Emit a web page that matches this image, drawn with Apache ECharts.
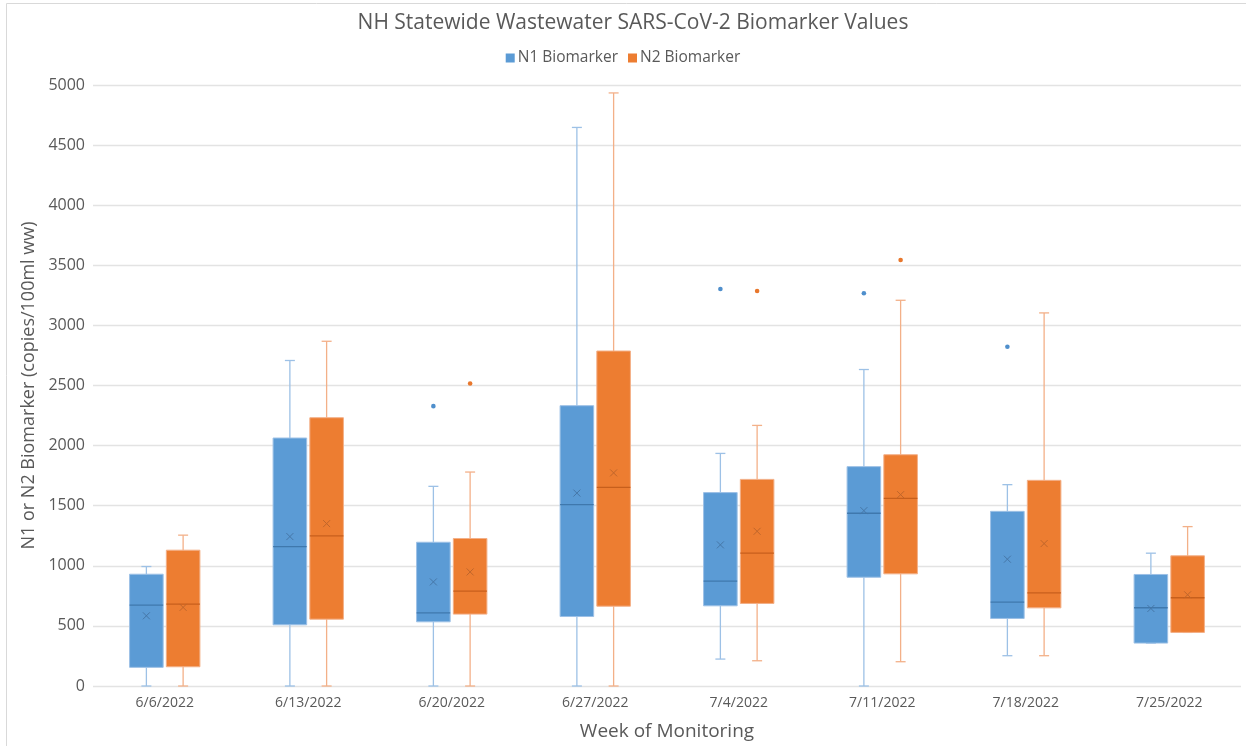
<!DOCTYPE html>
<html>
<head>
<meta charset="utf-8">
<script src="https://cdn.jsdelivr.net/npm/echarts@6/dist/echarts.min.js"></script>
<style>
  html, body { margin: 0; padding: 0; background: #fff; }
  #chart { width: 1246px; height: 746px; }
</style>
</head>
<body>
<div id="chart"></div>
<script>
// weeks
const categories = ['6/6/2022', '6/13/2022', '6/20/2022', '6/27/2022', '7/4/2022', '7/11/2022', '7/18/2022', '7/25/2022']
const yTicks = [0, 500, 1000, 1500, 2000, 2500, 3000, 3500, 4000, 4500, 5000]

// N1 biomarker box stats
const n1Min = [0, 0, 0, 0, 224, 0, 252, 357]
const n1Q1 = [155, 509, 534, 578, 667, 905, 562, 357]
const n1Median = [673, 1160, 609, 1509, 872, 1437, 698, 651]
const n1Q3 = [930, 2063, 1196, 2332, 1609, 1825, 1453, 928]
const n1Max = [994, 2708, 1661, 4647, 1935, 2633, 1675, 1105]
const n1Mean = [584, 1243, 866, 1605, 1174, 1459, 1055, 645]
const n1Outliers = [[2, 2328], [4, 3303], [5, 3267], [6, 2822]]

// N2 biomarker box stats
const n2Min = [0, 0, 0, 0, 210, 202, 252, 446]
const n2Q1 = [160, 556, 598, 664, 687, 933, 650, 446]
const n2Median = [681, 1249, 789, 1653, 1105, 1561, 775, 734]
const n2Q3 = [1130, 2232, 1227, 2787, 1719, 1924, 1711, 1083]
const n2Max = [1255, 2868, 1780, 4934, 2168, 3209, 3104, 1326]
const n2Mean = [654, 1351, 949, 1773, 1287, 1592, 1185, 759]
const n2Outliers = [[2, 2517], [4, 3286], [5, 3544]]

const textColor = '#595959'
const fontFamily = 'Open Sans'

const toRows = (mins, q1s, meds, q3s, maxs, means) =>
    categories.map((c, i) => [i, mins[i], q1s[i], meds[i], q3s[i], maxs[i], means[i]])

// draws one box (side -1 = left, 1 = right of the category centre)
const boxRenderer = (side, fill, whisker, median, meanColor) => (params, api) => {
    const idx = api.value(0)
    const band = api.size([1, 0])[0]
    const cx = api.coord([idx, 0])[0] + side * band * 0.128
    const w = band * 0.234
    const y = v => api.coord([idx, v])[1]
    const yMin = y(api.value(1)), yQ1 = y(api.value(2)), yMed = y(api.value(3))
    const yQ3 = y(api.value(4)), yMax = y(api.value(5)), yMean = y(api.value(6))
    const cap = 5
    const m = 3.5
    const lineStyle = { stroke: whisker, lineWidth: 1.3 }
    return {
        type: 'group',
        children: [
            { type: 'line', shape: { x1: cx, y1: yQ1, x2: cx, y2: yMin }, style: lineStyle },
            { type: 'line', shape: { x1: cx, y1: yQ3, x2: cx, y2: yMax }, style: lineStyle },
            { type: 'line', shape: { x1: cx - cap, y1: yMin, x2: cx + cap, y2: yMin }, style: lineStyle },
            { type: 'line', shape: { x1: cx - cap, y1: yMax, x2: cx + cap, y2: yMax }, style: lineStyle },
            {
                type: 'rect',
                shape: { x: cx - w / 2, y: yQ3, width: w, height: yQ1 - yQ3 },
                style: { fill: fill, stroke: whisker, lineWidth: 1 }
            },
            { type: 'line', shape: { x1: cx - w / 2, y1: yMed, x2: cx + w / 2, y2: yMed }, style: { stroke: median, lineWidth: 1.3 } },
            { type: 'line', shape: { x1: cx - m, y1: yMean - m, x2: cx + m, y2: yMean + m }, style: { stroke: meanColor, lineWidth: 1 } },
            { type: 'line', shape: { x1: cx - m, y1: yMean + m, x2: cx + m, y2: yMean - m }, style: { stroke: meanColor, lineWidth: 1 } }
        ]
    }
}

const dotRenderer = (side, fill) => (params, api) => {
    const idx = api.value(0)
    const band = api.size([1, 0])[0]
    const p = api.coord([idx, api.value(1)])
    return {
        type: 'circle',
        shape: { cx: p[0] + side * band * 0.128, cy: p[1], r: 2.3 },
        style: { fill: fill }
    }
}

const myChart = echarts.init(document.getElementById('chart'))
const option = {
    animation: false,
    title: {
        text: 'NH Statewide Wastewater SARS-CoV-2 Biomarker Values',
        left: 628,
        textAlign: 'center',
        top: 8,
        textStyle: { color: textColor, fontSize: 21, fontWeight: 'normal', fontFamily: fontFamily }
    },
    legend: {
        top: 45,
        left: 'center',
        itemWidth: 9,
        itemHeight: 9,
        itemGap: 10,
        icon: 'rect',
        data: ['N1 Biomarker', 'N2 Biomarker'],
        textStyle: { color: textColor, fontSize: 15.5, fontFamily: fontFamily, padding: [0, 0, 0, -2] }
    },
    graphic: [{
        type: 'rect',
        shape: { x: 6.5, y: 3.5, width: 1300, height: 800 },
        style: { fill: 'none', stroke: '#d9d9d9', lineWidth: 1 },
        silent: true
    }],
    grid: { left: 93, top: 85, width: 1148, height: 602 },
    xAxis: {
        type: 'category',
        data: categories,
        name: 'Week of Monitoring',
        nameLocation: 'middle',
        nameGap: 36,
        nameTextStyle: { color: textColor, fontSize: 19, fontFamily: fontFamily },
        axisLine: { show: false },
        axisTick: { show: false },
        axisLabel: { color: textColor, fontSize: 14, fontFamily: fontFamily, margin: 10 }
    },
    yAxis: {
        type: 'value',
        min: yTicks[0],
        max: yTicks[yTicks.length - 1],
        interval: 500,
        name: 'N1 or N2 Biomarker (copies/100ml ww)',
        nameLocation: 'middle',
        nameRotate: 90,
        nameGap: 54,
        nameTextStyle: { color: textColor, fontSize: 18, fontFamily: fontFamily },
        axisLine: { show: false },
        axisTick: { show: false },
        axisLabel: { color: textColor, fontSize: 16, fontFamily: fontFamily, margin: 8, formatter: v => String(v) },
        splitLine: { lineStyle: { color: '#e3e3e3', width: 1.3 } }
    },
    series: [
        {
            name: 'N1 Biomarker',
            type: 'custom',
            itemStyle: { color: '#5B9BD5' },
            encode: { x: 0, y: [1, 2, 3, 4, 5, 6] },
            data: toRows(n1Min, n1Q1, n1Median, n1Q3, n1Max, n1Mean),
            renderItem: boxRenderer(-1, '#5B9BD5', '#9dc1e6', '#3f78ad', '#4677a8')
        },
        {
            name: 'N2 Biomarker',
            type: 'custom',
            itemStyle: { color: '#ED7D31' },
            encode: { x: 0, y: [1, 2, 3, 4, 5, 6] },
            data: toRows(n2Min, n2Q1, n2Median, n2Q3, n2Max, n2Mean),
            renderItem: boxRenderer(1, '#ED7D31', '#f3b088', '#c75f1c', '#c0662b')
        },
        {
            name: 'N1 Biomarker',
            type: 'custom',
            itemStyle: { color: '#5B9BD5' },
            encode: { x: 0, y: 1 },
            data: n1Outliers,
            renderItem: dotRenderer(-1, '#4f8fcc')
        },
        {
            name: 'N2 Biomarker',
            type: 'custom',
            itemStyle: { color: '#ED7D31' },
            encode: { x: 0, y: 1 },
            data: n2Outliers,
            renderItem: dotRenderer(1, '#e8772c')
        }
    ]
}
myChart.setOption(option)
</script>
</body>
</html>
